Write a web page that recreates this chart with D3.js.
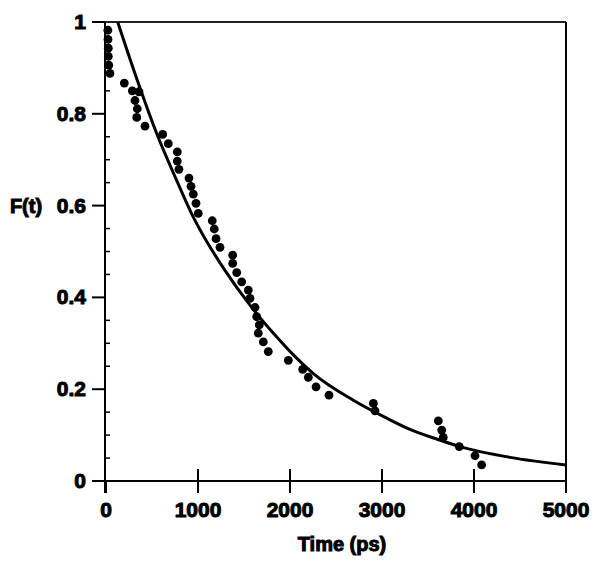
<!DOCTYPE html>
<html><head><meta charset="utf-8">
<script src="https://cdn.jsdelivr.net/npm/d3@7"></script>
<style>body{margin:0;background:#fff}svg{display:block}text{font-family:"Liberation Sans",Arial,sans-serif;font-weight:bold;fill:#000}</style>
</head><body><svg id="c" width="600" height="564"></svg>
<script>
// observed points: time (ps) and F(t)
const dataT = [20,22,25,25,30,43,199,286,359,315,340,334,424,616,677,775,775,793,902,924,949,978,1003,1155,1177,1196,1239,1377,1377,1421,1475,1547,1565,1620,1638,1666,1655,1710,1764,1982,2138,2199,2283,2424,2906,2924,3612,3649,3666,3840,4011,4083];
const dataF = [0.982,0.962,0.943,0.925,0.906,0.888,0.867,0.850,0.848,0.829,0.811,0.792,0.773,0.755,0.735,0.717,0.697,0.679,0.660,0.642,0.625,0.605,0.583,0.567,0.549,0.528,0.509,0.492,0.474,0.454,0.434,0.416,0.398,0.378,0.358,0.340,0.322,0.303,0.282,0.263,0.243,0.226,0.205,0.187,0.169,0.153,0.131,0.111,0.095,0.075,0.055,0.035];
// fitted curve
const fitT = [127,340,551,768,949,1100,1293,1565,1837,2050,2254,2688,3051,3304,3600,3848,4391,5000];
const fitF = [1.0,0.873,0.757,0.655,0.575,0.52,0.459,0.383,0.318,0.272,0.234,0.176,0.137,0.1125,0.091,0.075,0.0515,0.035];
const xTicks = [0,1000,2000,3000,4000,5000];
const yTicks = [0,0.2,0.4,0.6,0.8,1];
const yMinor = d3.range(0,1.001,0.05).filter(v=>Math.abs(v*5-Math.round(v*5))>1e-6);

const svg = d3.select("#c");
const x = d3.scaleLinear().domain([0,5000]).range([106,566]);
const y = d3.scaleLinear().domain([0,1]).range([481,22]);

// frame top/right
svg.append("line").attr("x1",105).attr("x2",566).attr("y1",y(1)).attr("y2",y(1)).attr("stroke","#222").attr("stroke-width",2);
svg.append("line").attr("x1",566).attr("x2",566).attr("y1",y(1)).attr("y2",493).attr("stroke","#000").attr("stroke-width",2);

// x axis
const gx = svg.append("g").attr("transform",`translate(0,${y(0)})`);
gx.append("line").attr("x1",93).attr("x2",566).attr("stroke","#000").attr("stroke-width",2);
gx.selectAll("line.t").data(xTicks).join("line").attr("class","t")
  .attr("x1",d=>x(d)).attr("x2",d=>x(d)).attr("y1",d=>d===0?0:-12).attr("y2",12)
  .attr("stroke","#000").attr("stroke-width",2);
gx.selectAll("text").data(xTicks).join("text")
  .attr("x",d=>x(d)).attr("y",36).attr("text-anchor","middle").attr("font-size",21)
  .attr("stroke","#000").attr("stroke-width",1).text(d=>d);

// y axis
const gy = svg.append("g").attr("transform",`translate(${x(0)-1},0)`);
gy.append("line").attr("y1",y(1)).attr("y2",493).attr("stroke","#000").attr("stroke-width",2);
gy.selectAll("line.t").data(yTicks).join("line").attr("class","t")
  .attr("x1",-13).attr("x2",0).attr("y1",d=>y(d)).attr("y2",d=>y(d)).attr("stroke","#000").attr("stroke-width",2);
gy.selectAll("line.m").data(yMinor).join("line").attr("class","m")
  .attr("x1",0).attr("x2",5).attr("y1",d=>y(d)).attr("y2",d=>y(d)).attr("stroke","#000").attr("stroke-width",1.5);
gy.selectAll("text").data(yTicks).join("text")
  .attr("x",-19).attr("y",d=>y(d)+7).attr("text-anchor","end").attr("font-size",21)
  .attr("stroke","#000").attr("stroke-width",1).text(d=>d);

// labels
svg.append("text").attr("x",342).attr("y",551).attr("text-anchor","middle").attr("font-size",20)
  .attr("stroke","#000").attr("stroke-width",1).text("Time (ps)");
svg.append("text").attr("x",26).attr("y",213).attr("text-anchor","middle").attr("font-size",20)
  .attr("stroke","#000").attr("stroke-width",1).text("F(t)");

// fit curve
const fit = fitT.map((t,i)=>[t,fitF[i]]);
svg.append("path").datum(fit).attr("fill","none").attr("stroke","#000").attr("stroke-width",3)
  .attr("d",d3.line().x(d=>x(d[0])).y(d=>y(d[1])).curve(d3.curveMonotoneX));

// points
const pts = dataT.map((t,i)=>[t,dataF[i]]);
svg.selectAll("circle").data(pts).join("circle")
  .attr("cx",d=>x(d[0])).attr("cy",d=>y(d[1])).attr("r",4.4).attr("fill","#000");
</script></body></html>
